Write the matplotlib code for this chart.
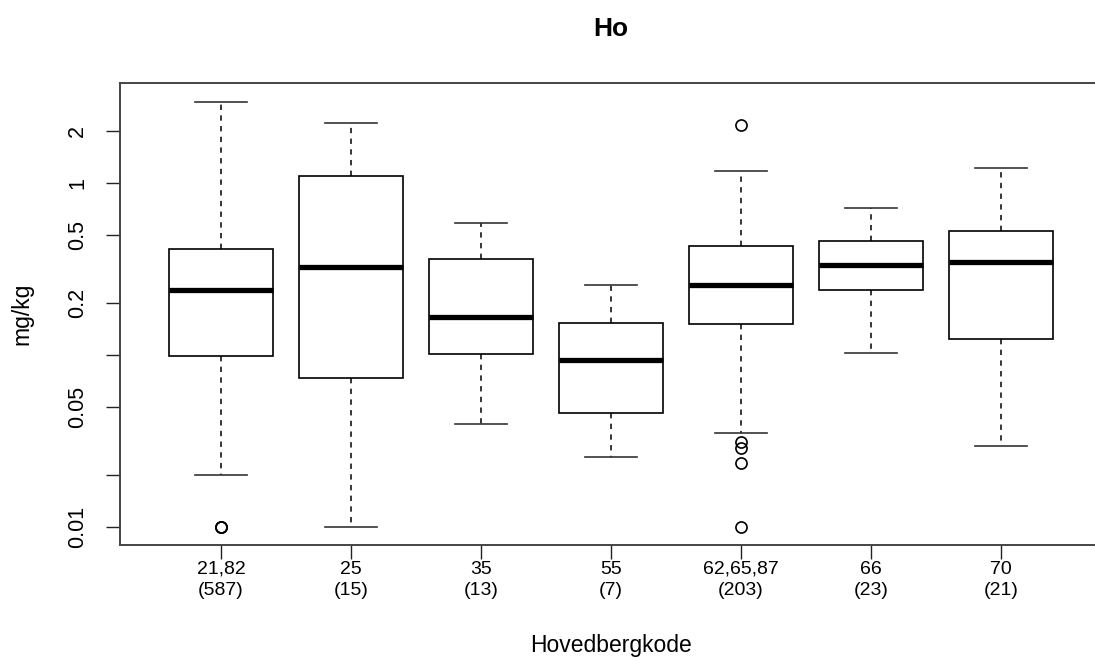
import matplotlib
matplotlib.use("Agg")
import matplotlib.pyplot as plt

plt.rcParams["font.family"] = ["Liberation Sans", "DejaVu Sans"]

# Boxplot summaries (mg/kg, log scale)
categories = ["21,82", "25", "35", "55", "62,65,87", "66", "70"]
counts = [587, 15, 13, 7, 203, 23, 21]
whislo = [0.020, 0.010, 0.0396, 0.0255, 0.0353, 0.103, 0.0297]
q1 = [0.0986, 0.0731, 0.101, 0.0459, 0.151, 0.238, 0.124]
med = [0.238, 0.325, 0.166, 0.0933, 0.255, 0.333, 0.345]
q3 = [0.412, 1.10, 0.360, 0.153, 0.429, 0.457, 0.525]
whishi = [2.96, 2.22, 0.583, 0.255, 1.17, 0.716, 1.224]
# several samples sit at the 0.01 detection limit in the first group
fliers = [[0.010, 0.010, 0.010], [], [], [], [2.17, 0.0313, 0.0287, 0.0234, 0.010], [], []]

ytick_vals = [0.01, 0.02, 0.05, 0.1, 0.2, 0.5, 1, 2]
ytick_labels = ["0.01", "", "0.05", "", "0.2", "0.5", "1", "2"]

stats = []
for i, cat in enumerate(categories):
    stats.append({
        "label": f"{cat}\n({counts[i]})",
        "whislo": whislo[i], "q1": q1[i], "med": med[i],
        "q3": q3[i], "whishi": whishi[i], "fliers": fliers[i],
    })

fig = plt.figure(figsize=(10.95, 6.61), dpi=100)
# plot region runs slightly past the right edge, as in the cropped reference
ax = fig.add_axes([120 / 1095, 1 - 545 / 661, 982 / 1095, 462 / 661])

ax.bxp(
    stats,
    positions=range(1, len(categories) + 1),
    widths=0.8,
    patch_artist=True,
    boxprops=dict(facecolor="white", edgecolor="black", linewidth=1.2),
    medianprops=dict(color="black", linewidth=3.8, solid_capstyle="butt"),
    whiskerprops=dict(color="black", linewidth=1.1, linestyle=(0, (3.5, 3.5))),
    capprops=dict(color="#333333", linewidth=1.2),
    capwidths=0.4,
    flierprops=dict(marker="o", markerfacecolor="none", markeredgecolor="black",
                    markersize=8, markeredgewidth=1.2),
)

ax.set_yscale("log")
ax.set_ylim(0.00786, 3.80)
ax.set_xlim(0.223, 7.777)
ax.minorticks_off()
ax.set_yticks(ytick_vals)
ax.set_yticklabels(ytick_labels, rotation=90, va="center", fontsize=15.5)
ax.tick_params(axis="y", length=10, width=1, pad=13, colors="#222222", labelcolor="black")
ax.tick_params(axis="x", length=10, width=1, pad=1.5, labelsize=14, colors="#222222",
               labelcolor="black")
for lab in ax.get_xticklabels():
    lab.set_linespacing(1.3)

for sp in ax.spines.values():
    sp.set_color("#444444")
    sp.set_linewidth(1.4)

ylab = ax.set_ylabel("mg/kg", fontsize=16.5)
ylab.set_rotation_mode("default")
ylab.set_ha("center")
ylab.set_va("center")
ax.yaxis.set_label_coords((22 - 120) / 982, 0.5)

xlab = ax.set_xlabel("Hovedbergkode", fontsize=16.5)
xlab.set_va("baseline")
ax.xaxis.set_label_coords(0.5, (545 - 652) / 462)

ax.set_title("Ho", fontsize=19, fontweight="bold", pad=34)

fig.savefig("out.png", dpi=100)
